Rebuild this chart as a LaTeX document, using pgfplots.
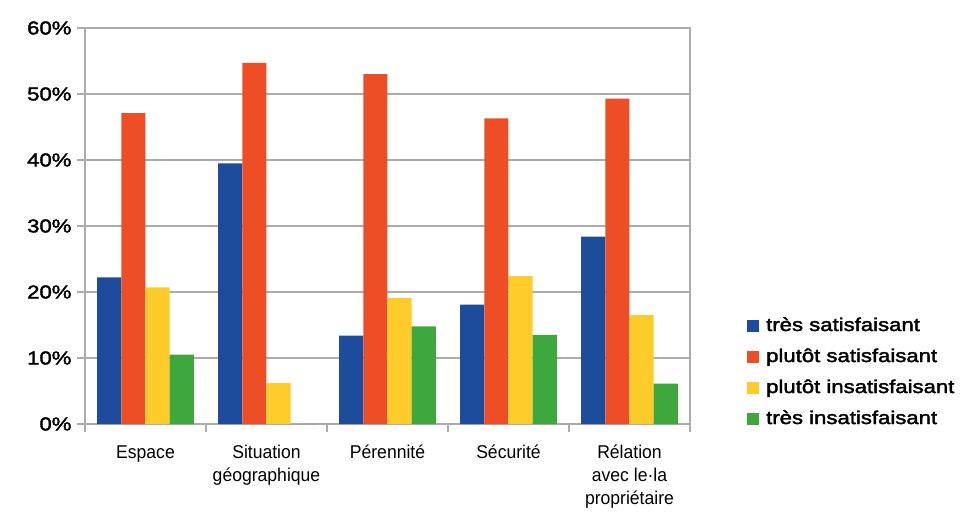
\documentclass[border=0pt]{standalone}
\usepackage{fontspec}
\usepackage{pgfplots}
\pgfplotsset{compat=1.18}
\setmainfont{Liberation Sans}
\newfontfamily\tickfont[FakeStretch=1.19,FakeBold=2]{Liberation Sans}
\newfontfamily\catfont[FakeStretch=0.95]{Liberation Sans}
\newcommand\ticksize{\tickfont\fontsize{18.6bp}{22bp}\selectfont}
\newcommand\catsize{\catfont\fontsize{18.5bp}{23bp}\selectfont}

\definecolor{cblue}{RGB}{30,76,156}
\definecolor{cred}{RGB}{238,78,38}
\definecolor{cyellow}{RGB}{253,204,42}
\definecolor{cgreen}{RGB}{62,167,62}
\definecolor{gridgray}{RGB}{172,172,172}

\begin{document}
\begin{tikzpicture}
\path[use as bounding box] (-85bp,-88bp) rectangle (893bp,424bp);
\begin{axis}[
  at={(0,0)}, anchor=south west,
  scale only axis, width=605bp, height=396bp,
  xmin=-0.5, xmax=4.5, ymin=0, ymax=60,
  xtick={-0.5,0.5,...,4.5}, x tick label as interval,
  xticklabels={{\strut Espace},{\strut Situation\\géographique},{\strut Pérennité},{\strut Sécurité},{\strut Rélation\\avec le·la\\propriétaire}},
  x tick label style={font=\catsize, align=center, anchor=north, yshift=-7bp},
  ytick={0,10,...,60},
  yticklabels={0\%,10\%,20\%,30\%,40\%,50\%,60\%},
  y tick label style={font=\ticksize, anchor=east, xshift=-2bp},
  xtick pos=bottom, ytick pos=left,
  tick align=outside, major tick length=8bp,
  ymajorgrids, grid style={gridgray, line width=1.2bp},
  axis line style={gridgray, line width=1.2bp},
  tick style={gridgray, line width=1.2bp},
  legend image code/.code={\fill[#1] (0bp,-6bp) rectangle (12bp,6bp);},
  legend cell align=left,
  legend style={draw=none, fill=none, inner sep=0pt,
    at={(axis description cs:1.0942,0.1300)}, anchor=west,
    font=\ticksize, row sep=13bp, column sep=7bp,
    nodes={inner sep=0pt, text height=14bp, text depth=4bp}},
]
\addplot[ybar, bar width=0.2, bar shift=-0.3, draw=none, fill=cblue]
  coordinates {(0,22.2) (1,39.5) (2,13.4) (3,18.1) (4,28.4)};
\addlegendentry{très satisfaisant}
\addplot[ybar, bar width=0.2, bar shift=-0.1, draw=none, fill=cred]
  coordinates {(0,47.1) (1,54.7) (2,53.0) (3,46.3) (4,49.3)};
\addlegendentry{plutôt satisfaisant}
\addplot[ybar, bar width=0.2, bar shift=0.1, draw=none, fill=cyellow]
  coordinates {(0,20.7) (1,6.2) (2,19.1) (3,22.4) (4,16.5)};
\addlegendentry{plutôt insatisfaisant}
\addplot[ybar, bar width=0.2, bar shift=0.3, draw=none, fill=cgreen]
  coordinates {(0,10.5) (1,0) (2,14.8) (3,13.5) (4,6.1)};
\addlegendentry{très insatisfaisant}
\end{axis}
\end{tikzpicture}
\end{document}
